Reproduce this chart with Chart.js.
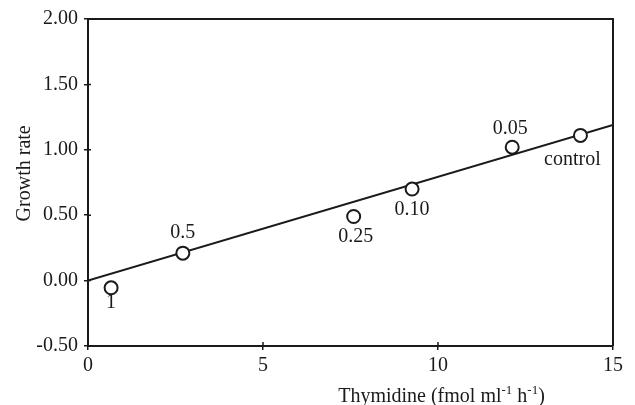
<!DOCTYPE html>
<html>
<head>
<meta charset="utf-8">
<script src="https://cdn.jsdelivr.net/npm/chart.js@4.4.0/dist/chart.umd.min.js"></script>
<style>
html, body { margin: 0; padding: 0; background: #fff; }
#wrap { width: 635px; height: 405px; }
</style>
</head>
<body>
<div id="wrap"><canvas id="growthChart"></canvas></div>
<script>
"use strict";

// ========== data ========== //
const thymidine = [0.66, 2.71, 7.59, 9.26, 12.12, 14.07];
const growthRate = [-0.055, 0.21, 0.49, 0.70, 1.02, 1.11];
const pointNames = ['1', '0.5', '0.25', '0.10', '0.05', 'control'];
const fitX = [0, 15];
const fitY = [0.0, 1.19];
const xTicks = [0, 5, 10, 15];
const yTicks = [-0.5, 0, 0.5, 1.0, 1.5, 2.0];

// where each point name sits relative to its circle (px)
const nameOffsets = [[0, 15], [0, -20], [2, 20], [0, 21], [-2, -18], [-8, 24]];

const ink = '#1a1a1a';
const serif = 'Liberation Serif';
const fontSize = 20;

// draw box, inner tick stubs, axis titles and point names
const extras = {
    id: 'extras',
    afterDatasetsDraw(chart) {
        const ctx = chart.ctx;
        const meta = chart.getDatasetMeta(1);
        ctx.save();
        ctx.fillStyle = ink;
        ctx.font = `${fontSize}px "${serif}"`;
        ctx.textAlign = 'center';
        ctx.textBaseline = 'middle';
        meta.data.forEach((pt, i) => {
            ctx.fillText(pointNames[i], pt.x + nameOffsets[i][0], pt.y + nameOffsets[i][1]);
        });
        ctx.restore();
    },
    afterDraw(chart) {
        const ctx = chart.ctx;
        const a = chart.chartArea;
        const xs = chart.scales.x;
        const ys = chart.scales.y;
        ctx.save();
        ctx.strokeStyle = ink;
        ctx.lineWidth = 2;
        ctx.beginPath();
        ctx.moveTo(a.left, a.top);
        ctx.lineTo(a.right, a.top);
        ctx.lineTo(a.right, a.bottom);
        ctx.stroke();

        // little tick stubs on the inside
        ctx.lineWidth = 1.5;
        ctx.beginPath();
        xTicks.forEach(v => {
            const px = xs.getPixelForValue(v);
            ctx.moveTo(px, a.bottom);
            ctx.lineTo(px, a.bottom - 4);
        });
        yTicks.forEach(v => {
            const py = ys.getPixelForValue(v);
            ctx.moveTo(a.left, py);
            ctx.lineTo(a.left + 3, py);
        });
        ctx.stroke();

        ctx.fillStyle = ink;
        ctx.textBaseline = 'middle';

        // y title
        ctx.save();
        ctx.translate(25, ys.getPixelForValue(0.82));
        ctx.rotate(-Math.PI / 2);
        ctx.textAlign = 'center';
        ctx.font = `${fontSize}px "${serif}"`;
        ctx.fillText('Growth rate', 0, 0);
        ctx.restore();

        // x title with superscripts
        const parts = [
            ['Thymidine (fmol ml', false],
            ['-1', true],
            [' h', false],
            ['-1', true],
            [')', false]
        ];
        const supSize = Math.round(fontSize * 0.65);
        let total = 0;
        parts.forEach(p => {
            ctx.font = `${p[1] ? supSize : fontSize}px "${serif}"`;
            total += ctx.measureText(p[0]).width;
        });
        let cx = xs.getPixelForValue(10.1) - total / 2;
        const ty = 397;
        ctx.textAlign = 'left';
        parts.forEach(p => {
            ctx.font = `${p[1] ? supSize : fontSize}px "${serif}"`;
            ctx.fillText(p[0], cx, p[1] ? ty - 6 : ty);
            cx += ctx.measureText(p[0]).width;
        });
        ctx.restore();
    }
};

const chartContainer = document.querySelector('#growthChart');
const chart = new Chart(chartContainer, {
    type: 'scatter',
    data: {
        datasets: [{
            type: 'line',
            data: fitX.map((x, i) => ({ x: x, y: fitY[i] })),
            borderColor: ink,
            borderWidth: 2,
            pointRadius: 0,
            order: 2
        }, {
            data: thymidine.map((x, i) => ({ x: x, y: growthRate[i] })),
            pointRadius: 6.5,
            borderWidth: 2,
            borderColor: ink,
            backgroundColor: '#fff',
            order: 1
        }]
    },
    options: {
        responsive: true,
        maintainAspectRatio: false,
        animation: false,
        layout: { padding: { top: 19, right: 22, left: 0, bottom: 0 } },
        plugins: { legend: { display: false }, tooltip: { enabled: false } },
        scales: {
            x: {
                type: 'linear',
                min: 0,
                max: 15,
                afterBuildTicks: s => { s.ticks = xTicks.map(v => ({ value: v })); },
                afterFit: s => { s.height = 59; },
                ticks: {
                    color: ink,
                    font: { family: serif, size: fontSize },
                    padding: 4,
                    maxRotation: 0,
                    callback: v => String(v)
                },
                grid: { drawOnChartArea: false, tickLength: 4, color: ink, lineWidth: 1.5 },
                border: { display: true, color: ink, width: 2 }
            },
            y: {
                type: 'linear',
                min: -0.5,
                max: 2,
                afterBuildTicks: s => { s.ticks = yTicks.map(v => ({ value: v })); },
                afterFit: s => { s.width = 88; },
                ticks: {
                    color: ink,
                    font: { family: serif, size: fontSize },
                    padding: 6,
                    callback: v => Number(v).toFixed(2)
                },
                grid: { drawOnChartArea: false, tickLength: 4, color: ink, lineWidth: 1.5 },
                border: { display: true, color: ink, width: 2 }
            }
        }
    },
    plugins: [extras]
});
</script>
</body>
</html>
